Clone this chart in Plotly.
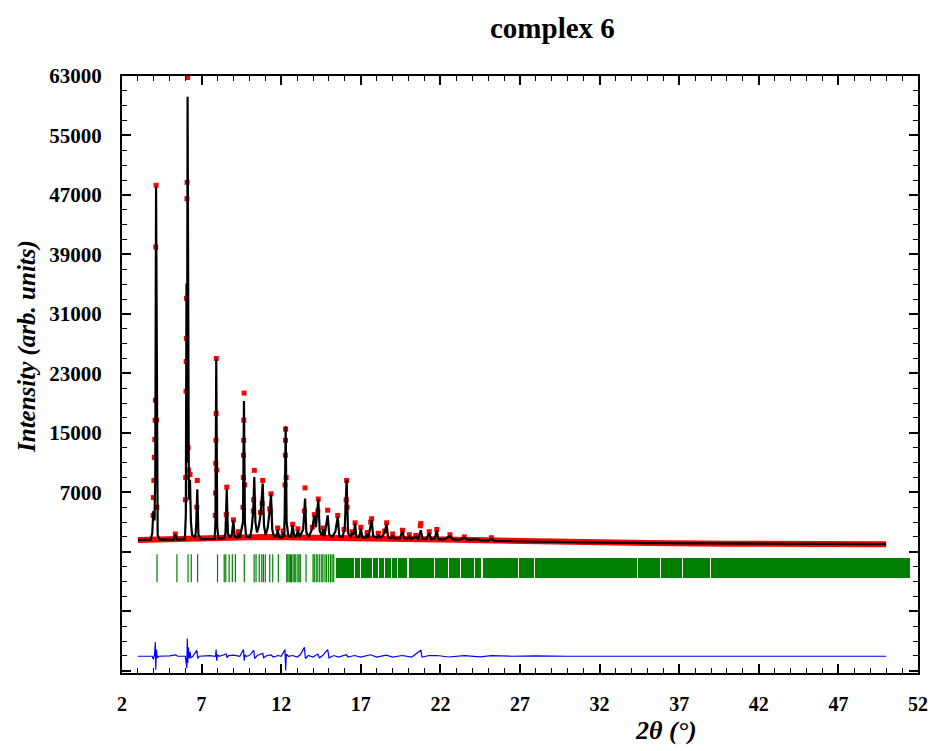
import plotly.graph_objects as go

# ---------------- data ----------------
title_text = "complex 6"
x_title = "2θ (°)"
y_title = "Intensity (arb. units)"

x_tick_vals = [2, 7, 12, 17, 22, 27, 32, 37, 42, 47, 52]
y_tick_vals = [-17000, -9000, -1000, 7000, 15000, 23000, 31000, 39000, 47000, 55000, 63000]
y_tick_text = ["", "", "", "7000", "15000", "23000", "31000", "39000", "47000", "55000", "63000"]

# calculated profile (black line): vertices of the pattern
two_theta_calc = [
    3.00, 3.80, 3.90, 3.97, 4.04, 4.09, 4.14, 4.19, 4.24, 4.35, 5.25, 5.35, 5.45, 5.95,
    6.01, 6.05, 6.08, 6.12, 6.16, 6.20, 6.27, 6.33, 6.40, 6.60, 6.66, 6.73, 6.80, 6.95,
    7.82, 7.87, 7.92, 7.98, 8.05, 8.40, 8.50, 8.58, 8.65, 8.78, 8.90, 9.00, 9.08, 9.25,
    9.32, 9.40, 9.60, 9.66, 9.72, 9.80, 10.05, 10.15, 10.24, 10.31, 10.38, 10.48, 10.60,
    10.70, 10.84, 10.92, 11.02, 11.15, 11.28, 11.36, 11.44, 11.55, 11.70, 11.78, 11.86,
    12.05, 12.12, 12.18, 12.22, 12.28, 12.34, 12.45, 12.62, 12.72, 12.82, 12.95, 13.05,
    13.15, 13.38, 13.50, 13.58, 13.72, 13.85, 13.95, 14.08, 14.18, 14.33, 14.42, 14.55,
    14.65, 14.72, 14.80, 14.92, 15.02, 15.20, 15.40, 15.55, 15.65, 15.85, 15.95, 16.00,
    16.11, 16.20, 16.35, 16.45, 16.55, 16.64, 16.72, 16.90, 17.00, 17.10, 17.30, 17.40,
    17.48, 17.58, 17.68, 17.78, 18.00, 18.10, 18.20, 18.35, 18.50, 18.62, 18.72, 18.90,
    19.00, 19.10, 19.45, 19.62, 19.72, 19.95, 20.05, 20.15, 20.45, 20.60, 20.77, 20.87,
    21.10, 21.30, 21.42, 21.65, 21.77, 21.87, 22.20, 22.60, 22.80, 23.20, 23.50, 23.70,
    24.30, 24.50, 25.00, 25.20, 25.40, 26.50, 28.00, 30.00, 35.00, 40.00, 45.00, 50.00,
]
intensity_calc = [
    600, 620, 1500, 4500, 3200, 9000, 48100, 6000, 1300, 650, 650, 1300, 650, 700,
    4000, 35100, 11000, 60200, 11000, 6000, 8700, 3000, 1300, 900, 2500, 7400, 1300, 700,
    750, 3000, 24900, 2500, 800, 800, 1500, 7400, 1500, 900, 1300, 3200, 1000, 900,
    1500, 900, 3000, 19300, 3000, 1000, 1000, 2200, 4500, 9050, 3000, 1600, 2500,
    4000, 8200, 2500, 1300, 2200, 4500, 6700, 2000, 1000, 1100, 2000, 1000,
    900, 1600, 1000, 4000, 15900, 3000, 1100, 1000, 2600, 1000, 1100, 1900,
    1000, 2000, 6150, 1600, 1000, 1600, 2100, 3900, 2300, 6050, 1800, 1200,
    2000, 1100, 2200, 3900, 1300, 1000, 1700, 3700, 1100, 1000, 1800, 2600,
    8700, 1500, 1000, 1500, 1300, 2800, 1000, 1000, 2100, 900, 900, 1400,
    900, 2000, 3250, 1100, 900, 1300, 900, 1100, 1600, 2700, 900, 800,
    1200, 800, 800, 1800, 800, 800, 1100, 750, 1000, 750, 1900, 750,
    700, 1500, 700, 800, 1900, 700, 650, 1100, 650, 650, 900, 600,
    700, 550, 500, 750, 480, 420, 350, 300, 180, 100, 50, 30,
]

# observed background (dense red points forming a band)
two_theta_obs_bg = [3.0, 3.9, 4.3, 6.0, 7.0, 8.0, 9.0, 10.0, 11.0, 12.0, 13.0, 14.0,
                    15.0, 16.0, 17.0, 18.0, 19.0, 20.0, 21.0, 22.0, 23.0, 24.0, 25.0,
                    26.5, 28.0, 30.0, 32.0, 35.0, 40.0, 45.0, 50.0]
intensity_obs_bg = [600, 620, 650, 700, 700, 750, 850, 950, 1000, 950, 1000, 1000,
                    1000, 950, 900, 850, 800, 750, 700, 650, 620, 580, 500,
                    430, 360, 300, 250, 180, 100, 50, 30]

# observed points on the peaks (red dots)
two_theta_obs_pk = [
    3.95, 3.97, 4.00, 4.03, 4.06, 4.08, 4.10, 4.12, 4.14, 4.17, 4.19,
    5.35, 5.98, 6.00, 6.02, 6.03, 6.04, 6.05, 6.08, 6.09, 6.12, 6.15, 6.18, 6.27, 6.70, 6.73,
    7.86, 7.88, 7.89, 7.90, 7.91, 7.92, 7.95, 8.55, 8.58, 9.00, 9.32,
    9.60, 9.62, 9.63, 9.64, 9.65, 9.67, 9.70,
    10.25, 10.27, 10.31, 10.70, 10.80, 10.84, 11.28, 11.32, 11.36, 11.78, 12.12,
    12.24, 12.26, 12.27, 12.28, 12.31, 12.72, 13.05, 13.46, 13.50, 13.95, 14.08, 14.30,
    14.33, 14.65, 14.92, 15.55, 15.95, 16.08, 16.11, 16.14, 16.45, 16.64, 17.00, 17.40,
    17.62, 17.68, 18.10, 18.50, 18.62, 19.00, 19.62, 20.05, 20.45,
    20.74, 20.77, 21.30, 21.77, 22.60, 23.50, 25.20,
]
intensity_obs_pk = [
    3900, 6300, 8600, 11700, 14100, 16700, 19400, 40000, 48300, 16700, 5000,
    1400, 6000, 9000, 20600, 24600, 27700, 33100, 46500, 48700, 62800, 13000, 10000, 9400, 5000, 8600,
    3900, 6900, 10900, 14000, 17600, 25000, 10000, 4000, 7700, 3300, 1700,
    5000, 9000, 12000, 14000, 16700, 20350, 8000,
    4500, 6000, 9960, 4300, 5500, 8600, 4800, 4500, 6800, 2200, 1800,
    8000, 12000, 14000, 15500, 9000, 2700, 2100, 4500, 7600, 2300, 4000, 4500,
    6100, 2200, 4600, 3900, 2000, 6000, 8600, 5000, 1700, 2900, 2300, 1600,
    3000, 3450, 1500, 1800, 2900, 1400, 1900, 1300, 1200,
    2500, 2800, 1700, 2000, 1300, 1000, 900,
]

# difference curve (observed - calculated)
two_theta_diff = [
    3.0, 3.9, 3.97, 4.05, 4.09, 4.12, 4.16, 4.22, 4.3, 5.0, 5.35, 5.5, 5.98, 6.03, 6.07,
    6.10, 6.13, 6.17, 6.22, 6.27, 6.33, 6.45, 6.70, 6.76, 6.85, 7.5, 7.88, 7.91, 7.95,
    8.0, 8.1, 8.55, 8.6, 8.7, 9.0, 9.4, 9.63, 9.68, 9.72, 9.8, 10.0, 10.28, 10.33, 10.5,
    10.84, 10.9, 11.1, 11.36, 11.5, 11.8, 12.0, 12.24, 12.28, 12.32, 12.45, 12.72, 13.0,
    13.2, 13.46, 13.52, 13.7, 14.0, 14.3, 14.4, 14.6, 14.92, 15.0, 15.3, 15.6, 16.1, 16.2,
    16.6, 17.0, 17.6, 18.0, 18.6, 19.0, 19.6, 20.2, 20.77, 20.85, 21.3, 21.8, 22.5, 23.5,
    24.5, 25.2, 26.5, 28.0, 30.0, 50.0,
]
intensity_diff = [
    0, 0, -400, 300, 1900, -1800, 900, -200, 0, 50, 200, 0, 0, -700, -1600,
    2400, -900, 1200, -300, 600, -200, 0, 800, -300, 0, 100, 0, 900, -600,
    200, 0, 300, -200, 100, 150, 0, 900, -600, 200, 0, 100, 800, -300, 100,
    400, -200, 100, 200, -100, 100, 0, 900, -1900, 300, 0, 100, -100,
    200, 1200, -300, 100, -100, 300, -200, 100, 900, -200, 100, -100, 200, -100,
    100, -100, 200, -100, 150, -100, 100, -100, 800, -100, 100, 100, -100, 80,
    -80, 100, 0, 60, 0, 0,
]

# Bragg reflection positions (individual ticks) and dense bands of reflections
reflection_pos = [4.20, 5.45, 6.15, 6.35, 6.75, 8.00, 8.42, 8.52, 8.73, 8.93, 9.12, 9.68,
                  10.30, 10.42, 10.62, 10.78, 10.88, 11.00, 11.28, 11.47, 11.82, 12.35,
                  12.42, 12.50, 12.58, 12.65, 12.75, 12.85, 12.92, 13.05, 13.12, 13.20,
                  13.56, 14.00, 14.08, 14.20, 14.30, 14.42, 14.55, 14.62, 14.75, 14.85,
                  14.98, 15.10, 15.20, 15.30]
band_start = [15.45, 16.62, 17.02, 17.42, 17.76, 18.14, 18.52, 18.94, 19.34, 19.66,
              20.05, 21.68, 22.52, 23.32, 24.16, 24.70, 26.93, 27.95, 34.43, 35.85,
              37.24, 38.99]
band_end = [16.58, 16.98, 17.38, 17.72, 18.10, 18.48, 18.90, 19.30, 19.62, 19.90,
            21.62, 22.46, 23.26, 24.10, 24.56, 26.86, 27.87, 34.36, 35.78, 37.17,
            38.92, 51.50]

# ---------------- styling constants ----------------
DIFF_OFFSET = -15050
TICK_LO, TICK_HI = -4570, -1880
GREEN = "#008000"
FONT = "Liberation Serif"

fig = go.Figure()

# reflection bands
fig.add_trace(go.Bar(
    x=[(s + e) / 2 for s, e in zip(band_start, band_end)],
    y=[TICK_HI - TICK_LO] * len(band_start),
    base=TICK_LO,
    width=[e - s for s, e in zip(band_start, band_end)],
    marker=dict(color=GREEN, line=dict(width=0)),
    hoverinfo="skip", showlegend=False,
))
# individual reflection ticks
fig.add_trace(go.Scatter(
    x=reflection_pos, y=[(TICK_LO + TICK_HI) / 2] * len(reflection_pos),
    mode="markers",
    marker=dict(symbol="line-ns", size=20, line=dict(color=GREEN, width=1.2)),
    showlegend=False,
))
# observed: background band
fig.add_trace(go.Scatter(
    x=two_theta_obs_bg, y=intensity_obs_bg, mode="lines",
    line=dict(color="#ff0000", width=6), showlegend=False,
))
# observed: peak points
fig.add_trace(go.Scatter(
    x=two_theta_obs_pk, y=intensity_obs_pk, mode="markers",
    marker=dict(color="#ff0000", size=5, symbol="square"), showlegend=False,
))
# calculated
fig.add_trace(go.Scatter(
    x=two_theta_calc, y=intensity_calc, mode="lines",
    line=dict(color="black", width=2.2), showlegend=False,
))
# difference
fig.add_trace(go.Scatter(
    x=two_theta_diff, y=[v + DIFF_OFFSET for v in intensity_diff], mode="lines",
    line=dict(color="#0000ff", width=1.2), showlegend=False,
))

axis_common = dict(
    showgrid=False, zeroline=False, showline=True, linecolor="black", linewidth=2,
    mirror="allticks", ticks="inside", ticklen=9, tickwidth=2, tickcolor="black",
    automargin=False,
)

fig.update_layout(
    width=933, height=751,
    margin=dict(l=122, r=15, t=76, b=78),
    paper_bgcolor="white", plot_bgcolor="white",
    barmode="overlay", bargap=0,
    xaxis=dict(range=[2, 52], tickmode="array", tickvals=x_tick_vals,
               ticklabelstandoff=12,
               tickfont=dict(family=FONT, size=20, color="black", weight="bold"),
               minor=dict(dtick=1, tick0=2, ticks="inside", ticklen=5, tickwidth=1.2,
                          tickcolor="black"),
               **axis_common),
    yaxis=dict(range=[-17300, 63000], tickmode="array", tickvals=y_tick_vals,
               ticktext=y_tick_text, ticklabelstandoff=14,
               tickfont=dict(family=FONT, size=21, color="black", weight="bold"),
               minor=dict(dtick=2000, tick0=7000, ticks="inside", ticklen=5,
                          tickwidth=1.2, tickcolor="black"),
               **axis_common),
    annotations=[
        dict(text=title_text, xref="paper", yref="paper", x=(552 - 122) / 796,
             y=(673 - 28) / 597, xanchor="center", yanchor="middle", showarrow=False,
             font=dict(family=FONT, size=29, color="black", weight="bold")),
        dict(text=x_title, xref="paper", yref="paper", x=(666 - 122) / 796,
             y=(673 - 731) / 597, xanchor="center", yanchor="middle", showarrow=False,
             font=dict(family=FONT, size=26, color="black", style="italic", weight="bold")),
        dict(text=y_title, xref="paper", yref="paper", x=(27 - 122) / 796,
             y=(673 - 347) / 597, xanchor="center", yanchor="middle", showarrow=False,
             textangle=-90,
             font=dict(family=FONT, size=25, color="black", style="italic", weight="bold")),
    ],
)

# remove the default page margin so the 933x751 figure fills the window exactly
fig.write_html("out.html", config={"displayModeBar": False},
               post_script="document.body.style.margin='0';document.body.style.overflow='hidden';")
